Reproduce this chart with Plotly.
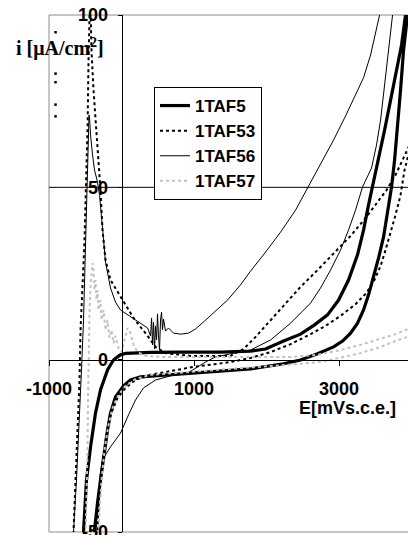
import plotly.graph_objects as go

# Cyclic polarization curves: potential E [mV vs SCE], current density i [uA/cm2].
# Each series runs the forward (anodic) scan and then the reverse scan.

taf5_E = [-530, -483, -427, -359, -290, -234, -193, -152, -110, -55, -14, 55, 124, 400,
          814, 1365, 1779, 1986, 2234, 2468, 2661, 2841, 2993, 3130, 3254, 3337, 3406,
          3461, 3544, 3627, 3710, 3792, 3861, 3916, 3935,
          3944, 3889, 3847, 3806, 3765, 3723, 3668, 3613, 3544, 3475, 3406, 3337, 3254,
          3158, 3048, 2923, 2703, 2468, 2234, 1779, 1365, 1089, 814, 607, 400, 262, 124,
          28, -83, -152, -193, -248, -290, -331, -372, -386]
taf5_i = [-52, -34.9, -25.3, -15.5, -8.8, -5.3, -3.0, -1.5, -0.1, 0.8, 1.4, 1.8, 1.9, 2.1,
          2.2, 2.2, 2.5, 3.1, 5.4, 7.4, 10.1, 13.0, 17.3, 23.1, 30.4, 37.6, 44.9,
          50.1, 57.9, 66.6, 75.3, 84.0, 91.3, 100.0, 105,
          100, 89.8, 78.2, 66.6, 57.9, 50.1, 42.8, 35.6, 29.5, 24.0, 18.8, 14.4, 10.6,
          7.7, 5.4, 3.7, 1.7, -0.1, -1.2, -2.7, -3.3, -3.9, -4.1, -4.4, -4.7, -5.0, -5.9,
          -7.6, -10.8, -15.5, -20.4, -28.2, -34.9, -41.6, -49.9, -52]

taf53_E = [-676, -662, -634, -607, -579, -565, -538, -510, -496, -483, -469, -455, -441,
           -434, -427, -414, -386, -359, -331, -317, -290, -262, -221, -152, -14, 165,
           359, 469, 607, 952, 1503, 1682, 1848, 2055, 2262, 2468, 2703, 2923, 3158,
           3365, 3544, 3654, 3778, 3875, 3972, 4000,
           3972, 3902, 3847, 3778, 3710, 3640, 3572, 3475, 3365, 3227, 3020, 2813, 2606,
           2331, 2055, 1779, 1503, 1227, 993, 676, 400, 193, 55, -55, -152, -207, -262,
           -303, -331, -345]
taf53_i = [-52.3, -49.9, -34.9, -20.4, -5.9, 8.6, 20.2, 34.7, 46.3, 55.0, 66.6, 86.9, 102.9,
           106, 101.4, 89.8, 78.2, 70.4, 63.7, 57.9, 49.2, 37.6, 28.9, 23.1, 18.2, 12.1,
           6.9, 3.7, 1.9, 1.1, 1.1, 3.1, 6.6, 11.5, 16.4, 21.1, 26.0, 30.9, 35.9,
           41.1, 46.3, 49.2, 53.6, 57.9, 62.3, 62,
           60.8, 55.0, 47.7, 42.0, 36.8, 31.8, 27.2, 22.5, 19.1, 16.1, 12.7, 9.8, 7.4,
           4.5, 2.2, 0.5, -0.7, -1.5, -2.1, -3.3, -4.4, -5.9, -8.2, -11.1, -16.0, -21.8,
           -29.1, -37.8, -49.9, -53.7]
# isolated readings of 1TAF53 near -900 mV
taf53_stray_E = [-910, -910, -910, -910, -910]
taf53_stray_i = [95.0, 83.0, 80.5, 74.0, 70.6]

taf56_E = [-676, -662, -621, -579, -552, -524, -510, -496, -483, -469, -455, -448, -441,
           -427, -400, -372, -331, -303, -262, -221, -152, -83, -14, 124, 262, 359,
           400, 414, 428, 441, 455, 469, 483, 496, 510, 524, 538, 552, 565, 579, 607, 648,
           717, 814, 924, 1020, 1145, 1296, 1462, 1641, 1779, 1986, 2193, 2400, 2565,
           2744, 2923, 3089, 3227, 3337, 3434, 3516, 3558, 3585,
           3751, 3737, 3682, 3627, 3572, 3516, 3447, 3323, 3227, 3130, 3020, 2882, 2744,
           2606, 2331, 2055, 1779, 1503, 1296, 1158, 1020, 910, 676, 469, 303, 193, 97,
           -14, -152, -248, -290, -317, -359, -372]
taf56_i = [-52.3, -49.9, -34.9, -17.5, -3.0, 11.5, 23.1, 34.7, 46.3, 57.9, 66.6, 71.0, 70.1,
           65.2, 59.4, 55.0, 51.5, 47.7, 38.2, 28.3, 20.8, 16.7, 14.4, 12.4, 10.6, 9.2,
           6.9, 12.1, 4.3, 10.9, 3.1, 9.8, 5.7, 13.3, 6.9, 2.8, 11.5, 13.8, 8.6, 11.8, 8.3, 9.2,
           7.7, 7.4, 7.7, 8.9, 11.2, 14.1, 17.3, 21.7, 25.7, 31.2, 37.0, 43.4, 49.8,
           56.5, 63.7, 70.7, 76.8, 81.8, 88.4, 95.6, 100.0, 102.9,
           102.9, 100.0, 89.8, 78.2, 69.5, 62.3, 55.6, 50.1, 43.4, 37.6, 31.8, 26.0, 20.8,
           16.4, 10.6, 5.7, 2.8, 1.7, 0.8, -0.7, -2.4, -3.9, -4.7, -5.9, -8.2, -11.7, -16.0,
           -21.3, -25.3, -28.5, -32.9, -39.8, -49.9, -53.7]

taf57_E = [-496, -483, -469, -462, -455, -441, -427, -414, -400, -386, -372, -359, -345,
           -331, -317, -290, -276, -248, -221, -193, -166, -138, -110, -83, -41, 0, 41,
           83, 124, 165, 221, 331, 538, 1089, 1779, 2331, 2703, 3020, 3296, 3572, 3778,
           3985,
           3985, 3778, 3572, 3296, 3020, 2744, 2468, 2055, 1641, 1227, 814, 400, 193, 55,
           -41, -124, -179, -234, -276, -303, -317, -331]
taf57_i = [-52.3, -40.7, -26.2, -11.7, 2.8, 14.4, 21.7, 26.0, 28.0, 26.0, 20.2, 23.1, 17.3,
           20.2, 14.4, 17.3, 11.5, 14.4, 8.6, 11.5, 6.3, 8.6, 4.8, 6.9, 3.4, 2.2, 5.7,
           9.2, 7.7, 4.3, 2.2, 1.1, 0.8, 0.8, 0.8, 0.8, 1.4, 2.8, 4.3, 6.0, 7.4,
           9.2,
           6.9, 5.4, 3.7, 1.9, 0.5, -0.7, -1.2, -1.8, -2.4, -3.0, -3.6, -4.4, -5.6, -7.6,
           -10.2, -14.0, -18.9, -26.2, -34.9, -43.6, -49.9, -53.7]

series_names = ["1TAF5", "1TAF53", "1TAF56", "1TAF57"]
x_ticks = [-1000, 1000, 3000]
y_ticks = [-50, 0, 50, 100]
x_range = [-1000, 3950]
y_range = [-50, 100]

SANS = "Arial, Liberation Sans, sans-serif"
SERIF = "Times New Roman, Liberation Serif, serif"

fig = go.Figure()
styles = [
    dict(color="#000000", width=3.2, dash="solid"),
    dict(color="#000000", width=2, dash="dot"),
    dict(color="#000000", width=1, dash="solid"),
    dict(color="#c2c2c2", width=2, dash="dot"),
]
data = [(taf5_E, taf5_i), (taf53_E, taf53_i), (taf56_E, taf56_i), (taf57_E, taf57_i)]
for name, (ex, iy), st in zip(series_names, data, styles):
    fig.add_trace(go.Scatter(x=ex, y=iy, mode="lines", name=name, line=st))
fig.add_trace(go.Scatter(x=taf53_stray_E, y=taf53_stray_i, mode="markers",
                         marker=dict(symbol="square", size=2.5, color="#000000"),
                         showlegend=False, hoverinfo="skip"))

x_zero_pos = (0 - x_range[0]) / (x_range[1] - x_range[0])
y_zero_pos = (0 - y_range[0]) / (y_range[1] - y_range[0])

fig.update_layout(
    width=408, height=535,
    margin=dict(l=49, r=0, t=15, b=3),
    paper_bgcolor="white", plot_bgcolor="white",
    font=dict(family=SANS, color="black"),
    showlegend=True,
    legend=dict(
        x=(154 - 49) / 359, y=(532 - 87) / 517, xanchor="left", yanchor="top",
        bgcolor="white", bordercolor="black", borderwidth=1,
        font=dict(family=SANS, size=17, weight="bold", color="black"),
        itemwidth=30, traceorder="normal",
    ),
    xaxis=dict(
        range=x_range, anchor="free", position=y_zero_pos, automargin=False,
        showline=True, linecolor="black", linewidth=1,
        ticks="outside", ticklen=5, tickcolor="black",
        tickvals=x_ticks, ticktext=[str(v) for v in x_ticks],
        tickfont=dict(family=SANS, size=18, weight="bold"),
        ticklabelstandoff=8, ticklabeloverflow="allow",
        showgrid=False, zeroline=False,
    ),
    yaxis=dict(
        range=y_range, anchor="free", position=x_zero_pos, automargin=False,
        showline=True, linecolor="black", linewidth=1,
        ticks="outside", ticklen=4, tickcolor="black",
        tickvals=y_ticks, ticktext=[str(v) for v in y_ticks],
        tickfont=dict(family=SANS, size=18, weight="bold"),
        ticklabelstandoff=6, ticklabeloverflow="allow",
        showgrid=False, zeroline=False,
    ),
    shapes=[
        # plot frame (left, top, bottom) in grey
        dict(type="line", xref="paper", yref="paper", x0=0, x1=0, y0=0, y1=1,
             line=dict(color="#8c8c8c", width=1), layer="below"),
        dict(type="line", xref="paper", yref="paper", x0=0, x1=1, y0=1, y1=1,
             line=dict(color="#8c8c8c", width=1), layer="below"),
        dict(type="line", xref="paper", yref="paper", x0=0, x1=1, y0=0, y1=0,
             line=dict(color="#8c8c8c", width=1), layer="below"),
        # gridline at 50
        dict(type="line", xref="paper", yref="y", x0=0, x1=1, y0=50, y1=50,
             line=dict(color="black", width=1), layer="below"),
    ],
    annotations=[
        dict(text="i [μA/cm<sup>2</sup>]", xref="paper", yref="paper",
             x=(60 - 49) / 359, y=(532 - 47) / 517, showarrow=False,
             xanchor="center", yanchor="middle",
             font=dict(family=SERIF, size=20, weight="bold", color="black")),
        dict(text="E[mVs.c.e.]", xref="paper", yref="paper",
             x=(347 - 49) / 359, y=(532 - 408) / 517, showarrow=False,
             xanchor="center", yanchor="middle",
             font=dict(family=SANS, size=18, weight="bold", color="black")),
    ],
)

fig.write_html("out.html")
